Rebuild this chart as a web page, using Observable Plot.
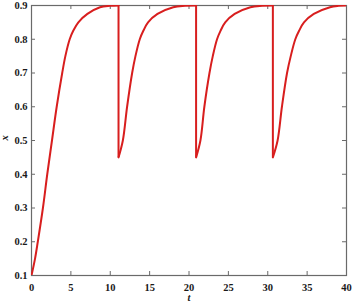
<!DOCTYPE html>
<html><head><meta charset="utf-8">
<script src="https://cdn.jsdelivr.net/npm/d3@7"></script>
<script src="https://cdn.jsdelivr.net/npm/@observablehq/plot@0.6"></script>
<style>body{margin:0;background:#fff}</style>
</head><body><div id="chart"></div>
<script>
// initial rise
const riseT = [0, 0.45, 0.8, 1.45, 2.0, 2.6, 3.2, 3.9, 4.3, 4.85, 5.3, 5.95, 7.1, 8.7, 10.0, 11.05];
const riseX = [0.1, 0.15, 0.2, 0.3, 0.4, 0.5, 0.6, 0.7, 0.75, 0.8, 0.825, 0.85, 0.875, 0.895, 0.899, 0.9];
// recoveries after each drop
const rec1T = [11.05, 11.6, 12.14, 12.78, 13.2, 13.75, 14.2, 14.8, 16.0, 18.0, 19.5, 20.9];
const rec1X = [0.45, 0.5, 0.6, 0.7, 0.75, 0.8, 0.825, 0.85, 0.875, 0.895, 0.899, 0.9];
const rec2T = [20.9, 21.45, 21.95, 22.6, 23.02, 23.56, 24.0, 24.6, 25.8, 27.8, 29.3, 30.65];
const rec2X = [0.45, 0.5, 0.6, 0.7, 0.75, 0.8, 0.825, 0.85, 0.875, 0.895, 0.899, 0.9];
const rec3T = [30.65, 31.25, 31.8, 32.45, 32.92, 33.5, 33.98, 34.6, 35.85, 37.9, 39.0, 40.0];
const rec3X = [0.45, 0.5, 0.6, 0.7, 0.75, 0.8, 0.825, 0.85, 0.875, 0.895, 0.899, 0.9];
// drops
const dropT = [11.05, 20.9, 30.65];
const dropTop = 0.9;
const dropBottom = 0.45;
// ticks
const xTicks = [0, 5, 10, 15, 20, 25, 30, 35, 40];
const yTicks = [0.1, 0.2, 0.3, 0.4, 0.5, 0.6, 0.7, 0.8, 0.9];
const xDomain = [0, 40];
const yDomain = [0.1, 0.9];

const segs = [[riseT, riseX], [rec1T, rec1X], [rec2T, rec2X], [rec3T, rec3X]];
const rows = segs.flatMap(([T, X], k) => T.map((t, i) => ({t, x: X[i], seg: k})));

const W = 354, H = 306, mL = 31, mR = 8, mT = 5, mB = 31;
const tickPx = 4;
const tyLen = (yDomain[1] - yDomain[0]) * tickPx / (H - mT - mB);
const txLen = (xDomain[1] - xDomain[0]) * tickPx / (W - mL - mR);

const red = "#d81e1e";
const axisColor = "#6a6a6a";
const ff = "Liberation Serif";
const chart = Plot.plot({
  width: W, height: H,
  marginLeft: mL, marginRight: mR, marginTop: mT, marginBottom: mB,
  style: {background: "#fff", color: "#1a1a1a", fontSize: "10.5px", fontFamily: ff},
  x: {domain: xDomain, label: null},
  y: {domain: yDomain, label: null},
  marks: [
    Plot.axisX(xTicks, {tickSize: 0, tickPadding: 8, label: null, tickFormat: d => String(d), fontFamily: ff, fontSize: 10.5, fontWeight: "bold"}),
    Plot.axisY(yTicks, {tickSize: 0, tickPadding: 4, label: null, tickFormat: d => d.toFixed(1), fontFamily: ff, fontSize: 10.5, fontWeight: "bold"}),
    Plot.ruleX(xTicks, {x: d => d, y1: () => yDomain[0], y2: () => yDomain[0] + tyLen, stroke: axisColor}),
    Plot.ruleX(xTicks, {x: d => d, y1: () => yDomain[1] - tyLen, y2: () => yDomain[1], stroke: axisColor}),
    Plot.ruleY(yTicks, {y: d => d, x1: () => xDomain[0], x2: () => xDomain[0] + txLen, stroke: axisColor}),
    Plot.ruleY(yTicks, {y: d => d, x1: () => xDomain[1] - txLen, x2: () => xDomain[1], stroke: axisColor}),
    Plot.frame({stroke: axisColor, strokeWidth: 1.2}),
    Plot.ruleX(dropT, {x: d => d, y1: () => dropBottom, y2: () => dropTop, stroke: red, strokeWidth: 2}),
    Plot.line(rows, {x: "t", y: "x", z: "seg", curve: "catmull-rom", stroke: red, strokeWidth: 2, clip: true}),
    Plot.text(["x"], {text: d => d, frameAnchor: "left", dx: -27, rotate: -90, fontStyle: "italic", fontWeight: "bold", fontSize: 10.5, fontFamily: ff}),
    Plot.text(["t"], {text: d => d, frameAnchor: "bottom", dy: 25, fontStyle: "italic", fontWeight: "bold", fontSize: 10.5, fontFamily: ff})
  ]
});
document.getElementById("chart").append(chart);
</script>
</body></html>
